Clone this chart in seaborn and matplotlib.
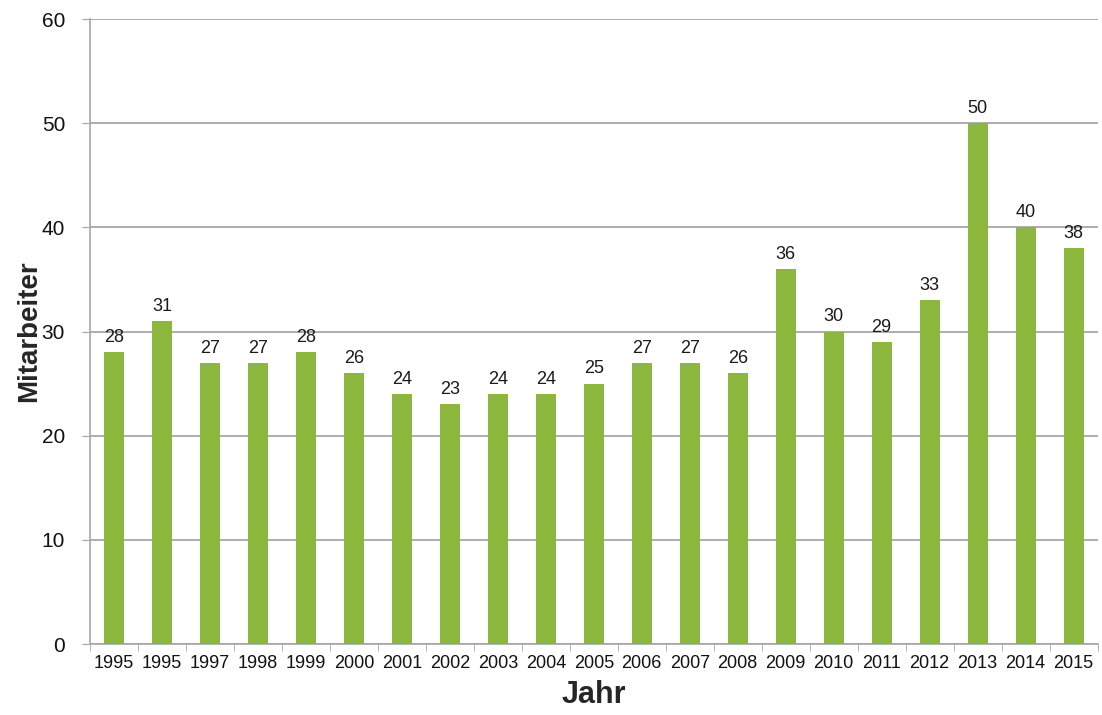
import numpy as np
import pandas as pd
import matplotlib
matplotlib.use("Agg")
import matplotlib.pyplot as plt
import seaborn as sns

# data (the duplicated 1995 label is in the original)
years = ["1995", "1995", "1997", "1998", "1999", "2000", "2001", "2002", "2003", "2004", "2005",
         "2006", "2007", "2008", "2009", "2010", "2011", "2012", "2013", "2014", "2015"]
staff = [28, 31, 27, 27, 28, 26, 24, 23, 24, 24, 25, 27, 27, 26, 36, 30, 29, 33, 50, 40, 38]

df = pd.DataFrame({"pos": range(len(years)), "Mitarbeiter": staff})

sns.set_style("white")
plt.rcParams["font.family"] = ["Liberation Sans", "DejaVu Sans"]

fig = plt.figure(figsize=(11.02, 7.15), dpi=100)
ax = fig.add_axes([0.0817, 0.0993, 0.9143, 0.8741])

sns.barplot(data=df, x="pos", y="Mitarbeiter", color="#8cb63e", width=0.42,
            saturation=1, edgecolor="none", ax=ax, zorder=3)

# value labels on top of each bar
for p, v in zip(ax.patches, staff):
    ax.text(p.get_x() + p.get_width() / 2, v + 0.6, str(v), ha="center", va="bottom",
            fontsize=13, color="#1a1a1a", zorder=4)

ax.set_ylim(0, 60)
ax.set_xlim(-0.5, len(years) - 0.5)
ax.set_yticks(np.arange(0, 61, 10))
ax.yaxis.grid(True, color="#9e9e9e", linewidth=1.2, zorder=0)
ax.set_xticks(range(len(years)))
ax.set_xticklabels(years)
ax.set_xticks(np.arange(-0.5, len(years)), minor=True)
ax.tick_params(axis="x", which="major", length=0, labelsize=13, pad=8, labelcolor="#111111")
ax.tick_params(axis="x", which="minor", length=5, color="#a6a6a6", bottom=True)
ax.tick_params(axis="y", length=6, color="#a6a6a6", labelsize=15, left=True, pad=12,
               labelcolor="#111111")

for s in ["top", "right"]:
    ax.spines[s].set_visible(False)
for s in ["left", "bottom"]:
    ax.spines[s].set_color("#a6a6a6")
    ax.spines[s].set_linewidth(1.2)

ax.set_xlabel("Jahr", fontsize=22, fontweight="bold", labelpad=6)
ax.set_ylabel("Mitarbeiter", fontsize=20, fontweight="bold", labelpad=0)

fig.savefig("out.png", dpi=100)
